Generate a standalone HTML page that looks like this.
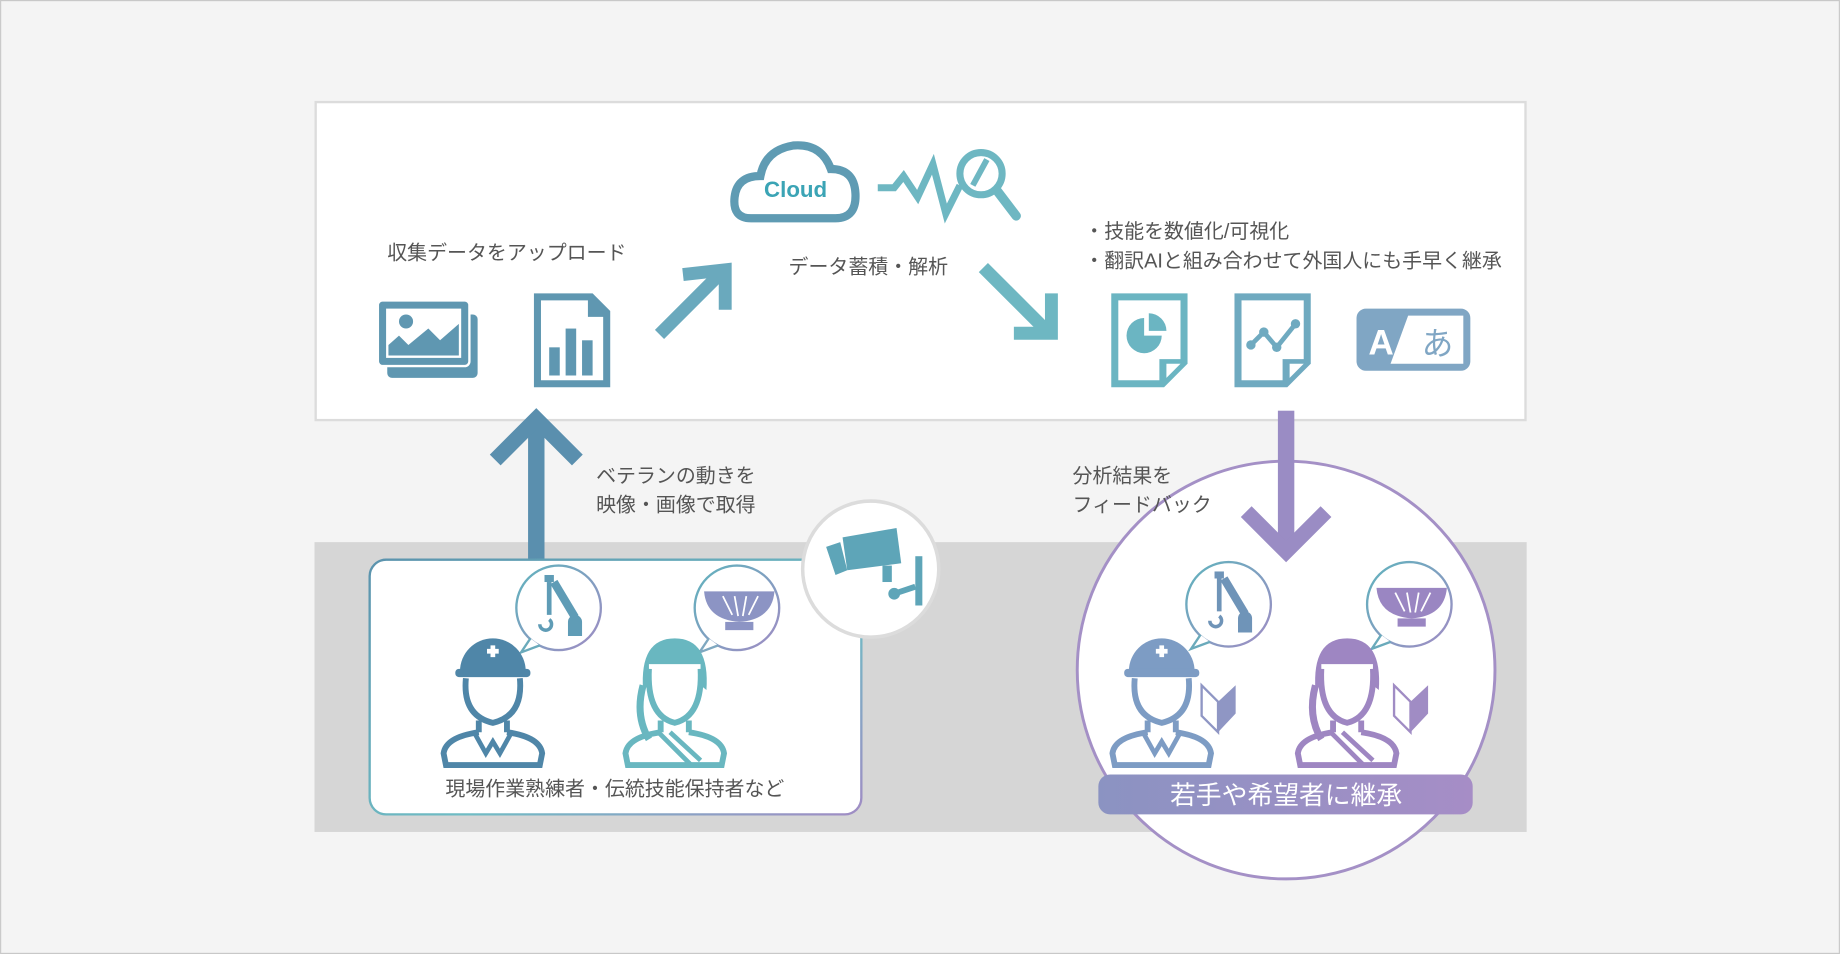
<!DOCTYPE html>
<html><head><meta charset="utf-8"><style>
html,body{margin:0;padding:0;background:#f4f4f4}
svg{display:block}
text{font-family:"Liberation Sans","Noto Sans CJK JP",sans-serif}
</style></head><body>
<svg width="1840" height="954" viewBox="0 0 1568 813" xmlns="http://www.w3.org/2000/svg">
<defs>
<linearGradient id="pg" x1="0" y1="0" x2="1" y2="0"><stop offset="0" stop-color="#8b93c2"/><stop offset="1" stop-color="#a68dc6"/></linearGradient>
<linearGradient id="bd" x1="0" y1="0" x2="1" y2="1"><stop offset="0" stop-color="#5b93ad"/><stop offset=".6" stop-color="#6fbcc4"/><stop offset="1" stop-color="#a08cc4"/></linearGradient>
<linearGradient id="bub" x1="0" y1="0" x2="1" y2="1"><stop offset="0" stop-color="#5fb3bd"/><stop offset="1" stop-color="#a08cc4"/></linearGradient>
<g id="worker">
 <path d="M-28,-8 A28,28 0 0 1 28,-8 Z" fill="currentColor"/>
 <rect x="-32" y="-10" width="64" height="7" rx="3" fill="currentColor"/>
 <path d="M-23,-2 Q-26,30 0,36 Q26,30 23,-2" fill="none" stroke="currentColor" stroke-width="5"/>
 <path d="M-12,34 L-12,44 M12,34 L12,44" stroke="currentColor" stroke-width="5"/>
 <path d="M-12,44 Q-40,48 -42,62 L-40,72 L40,72 L42,62 Q40,48 12,44" fill="none" stroke="currentColor" stroke-width="5"/>
 <path d="M-16,44 L-6,62 L0,52 L6,62 L16,44" fill="none" stroke="currentColor" stroke-width="4"/>
 <path d="M-5,-25 h10 M0,-30 v10" stroke="#fff" stroke-width="4"/>
</g>
<g id="woman">
 <path d="M-27,8 Q-30,-36 0,-36 Q30,-36 27,8 L22,4 L22,-14 Q0,-14 -22,-14 L-22,4 Z" fill="currentColor"/>
 <path d="M-22,-10 Q-24,30 0,36 Q24,30 22,-10" fill="none" stroke="currentColor" stroke-width="5"/>
 <path d="M-12,34 L-12,44 M12,34 L12,44" stroke="currentColor" stroke-width="5"/>
 <path d="M-12,44 Q-40,48 -42,62 L-40,72 L40,72 L42,62 Q40,48 12,44" fill="none" stroke="currentColor" stroke-width="5"/>
 <path d="M-14,44 L14,72 M-4,44 L22,68" stroke="currentColor" stroke-width="4"/>
 <path d="M-27,4 Q-34,30 -22,50" fill="none" stroke="currentColor" stroke-width="6"/>
</g>
<g id="crane">
 <path d="M-12,-28 h8 v6 h-8 Z" fill="currentColor"/>
 <path d="M-8,-22 L-8,6" stroke="currentColor" stroke-width="4"/>
 <path d="M-4,-22 L14,8" stroke="currentColor" stroke-width="7"/>
 <path d="M-8,10 a5,5 0 1 1 -8,4" fill="none" stroke="currentColor" stroke-width="3"/>
 <path d="M8,24 v-12 a6,6 0 0 1 12,0 v12 Z" fill="currentColor"/>
</g>
<g id="bowl">
 <path d="M-30,-12 h60 Q28,12 0,14 Q-28,12 -30,-12 Z" fill="currentColor"/>
 <rect x="-12" y="14" width="24" height="7" fill="currentColor"/>
 <path d="M-14,-8 L-6,8 M-4,-8 L-1,9 M6,-8 L3,9 M16,-8 L8,8" stroke="#fff" stroke-width="1.5"/>
</g>
</defs>
<rect x="0.5" y="0.5" width="1567" height="812" fill="#f4f4f4" stroke="#c8c8c8"/>
<rect x="268" y="462" width="1033" height="247" fill="#d6d6d6"/>
<rect x="269" y="87" width="1031" height="271" fill="#fff" stroke="#dcdcdc" stroke-width="2"/>

<g font-size="17" fill="#555">
<text x="330" y="221">収集データをアップロード</text>
<text x="672" y="233">データ蓄積・解析</text>
<text x="924" y="203">・技能を数値化/可視化</text>
<text x="924" y="228">・翻訳AIと組み合わせて外国人にも手早く継承</text>
<text x="508" y="411">ベテランの動きを</text>
<text x="508" y="436">映像・画像で取得</text>
</g>

<rect x="330" y="268" width="77" height="54" rx="4" fill="#5f97b1"/>
<rect x="322" y="256" width="78" height="56" rx="4" fill="#5f97b1" stroke="#fff" stroke-width="2"/>
<rect x="329" y="263" width="64" height="42" fill="#fff"/>
<circle cx="346" cy="274" r="6" fill="#5f97b1"/>
<path d="M331,303 L331,294 L340,286 L348,294 L365,280 L375,290 L391,276 L391,303 Z" fill="#5f97b1"/>
<path d="M455,250 h50 l15,15 v65 h-65 Z" fill="#5f97b1"/>
<path d="M461,256 h40 v14 h13 v54 h-53 Z" fill="#fff"/>
<rect x="468" y="296" width="9" height="24" fill="#5f97b1"/><rect x="482" y="280" width="9" height="40" fill="#5f97b1"/><rect x="496" y="290" width="9" height="30" fill="#5f97b1"/>
<path d="M562,285 L614,233" stroke="#6aa9bd" stroke-width="11"/>
<path d="M582,234 L618,230 L618,264" fill="none" stroke="#6aa9bd" stroke-width="11"/>
<path d="M838,228 L890,280" stroke="#6eb7c2" stroke-width="11"/>
<path d="M864,284 L896,284 L896,250" fill="none" stroke="#6eb7c2" stroke-width="11"/>
<path d="M640,186 Q624,186 626,168 Q628,150 648,150 Q652,128 676,124 Q700,122 708,144 Q728,144 729,165 Q730,186 712,186 Z" fill="#fff" stroke="#5f9bb3" stroke-width="7"/>
<text x="678" y="168" font-size="19" font-weight="bold" fill="#3ba4b5" text-anchor="middle">Cloud</text>
<path d="M748,160 L762,160 L770,150 L782,168 L795,140 L806,182 L818,158" fill="none" stroke="#6eb7c2" stroke-width="6"/>
<circle cx="836" cy="148" r="18" fill="#fff" stroke="#6eb7c2" stroke-width="6"/>
<path d="M841,136 L829,158" stroke="#6eb7c2" stroke-width="5"/>
<path d="M850,163 L866,184" stroke="#6eb7c2" stroke-width="8" stroke-linecap="round"/>
<path d="M947,250 h65 v60 l-20,20 h-45 Z" fill="#6bb5c2"/>
<path d="M953,256 h53 v50 h-18 v18 h-35 Z" fill="#fff"/>
<path d="M994,310 l12,0 l-12,12 Z" fill="#fff"/>
<path d="M975,271 A15,15 0 1 0 990,286 L975,286 Z" fill="#6bb5c2"/>
<path d="M979,267 A15,15 0 0 1 994,282 L979,282 Z" fill="#6bb5c2"/>
<path d="M1052,250 h65 v60 l-20,20 h-45 Z" fill="#6faac0"/>
<path d="M1058,256 h53 v50 h-18 v18 h-35 Z" fill="#fff"/>
<path d="M1099,310 l12,0 l-12,12 Z" fill="#fff"/>
<path d="M1066,294 L1077,283 L1088,296 L1104,276" fill="none" stroke="#6faac0" stroke-width="4"/>
<circle cx="1066" cy="294" r="4" fill="#6faac0"/><circle cx="1077" cy="283" r="4" fill="#6faac0"/><circle cx="1088" cy="296" r="4" fill="#6faac0"/><circle cx="1104" cy="276" r="4" fill="#6faac0"/>
<rect x="1156" y="263" width="97" height="53" rx="8" fill="#80a6c4"/>
<path d="M1200,269 h47 v41 h-62 Z" fill="#fff"/>
<text x="1177" y="302" font-size="30" font-weight="bold" fill="#fff" text-anchor="middle">A</text>
<text x="1225" y="302" font-size="27" fill="#80a6c4" text-anchor="middle">あ</text>

<rect x="450" y="358" width="14" height="120" fill="#5a8fae"/>
<path d="M422,392 L457,357 L492,392" fill="none" stroke="#5a8fae" stroke-width="13"/>

<rect x="315" y="477" width="419" height="217" rx="14" fill="#fff" stroke="url(#bd)" stroke-width="2"/>
<circle cx="742" cy="485" r="58" fill="#fff" stroke="#dcdcdc" stroke-width="3"/>
<g fill="#5ea5b8">
<path d="M718,458 L764,450 L768,480 L722,486 Z"/>
<path d="M704,466 L716,462 L722,486 L712,490 Z"/>
<rect x="752" y="482" width="8" height="14"/>
<circle cx="762" cy="506" r="5"/>
<path d="M762,506 L780,500" stroke="#5ea5b8" stroke-width="5"/>
<rect x="780" y="474" width="6" height="42"/>
</g>
<circle cx="476" cy="518" r="36" fill="#fff" stroke="url(#bub)" stroke-width="2"/>
<path d="M452,544 L444,556 L460,550" fill="#fff" stroke="#6aaabb" stroke-width="2"/>
<use href="#crane" x="476" y="518" style="color:#5f9cb6"/>
<circle cx="628" cy="518" r="36" fill="#fff" stroke="url(#bub)" stroke-width="2"/>
<path d="M604,544 L596,556 L612,550" fill="#fff" stroke="#7fa8c0" stroke-width="2"/>
<use href="#bowl" x="630" y="516" style="color:#8c94c4"/>
<use href="#worker" x="420" y="580" style="color:#4f86a8"/>
<use href="#woman" x="575" y="580" style="color:#69b7c0"/>
<text x="524" y="678" font-size="17" fill="#555" text-anchor="middle">現場作業熟練者・伝統技能保持者など</text>

<circle cx="1096" cy="571" r="178" fill="#fff" stroke="#a490c6" stroke-width="2.5"/>
<g font-size="17" fill="#555">
<text x="914" y="411">分析結果を</text>
<text x="914" y="436">フィードバック</text>
</g>
<rect x="1089" y="350" width="14" height="122" fill="#9a8cc4"/>
<path d="M1062,436 L1096,470 L1130,436" fill="none" stroke="#9a8cc4" stroke-width="13"/>
<circle cx="1047" cy="515" r="36" fill="#fff" stroke="url(#bub)" stroke-width="2"/>
<path d="M1023,541 L1015,553 L1031,547" fill="#fff" stroke="#6aaabb" stroke-width="2"/>
<use href="#crane" x="1047" y="515" style="color:#6f94b8"/>
<circle cx="1201" cy="515" r="36" fill="#fff" stroke="url(#bub)" stroke-width="2"/>
<path d="M1177,541 L1169,553 L1185,547" fill="#fff" stroke="#6aaabb" stroke-width="2"/>
<use href="#bowl" x="1203" y="513" style="color:#9a86c2"/>
<use href="#worker" x="990" y="580" style="color:#7d9cc4"/>
<use href="#woman" x="1148" y="580" style="color:#9e86c2"/>
<path d="M1024,584 L1038,598 L1038,624 L1024,610 Z" fill="#fff" stroke="#8f96c4" stroke-width="2"/>
<path d="M1038,598 L1053,584 L1053,608 L1038,624 Z" fill="#8f96c4"/>
<path d="M1188,584 L1202,598 L1202,624 L1188,610 Z" fill="#fff" stroke="#a08cc4" stroke-width="2"/>
<path d="M1202,598 L1217,584 L1217,608 L1202,624 Z" fill="#a08cc4"/>
<rect x="936" y="660" width="319" height="34" rx="10" fill="url(#pg)"/>
<text x="1096" y="685" font-size="22" fill="#fff" text-anchor="middle">若手や希望者に継承</text>
</svg>
</body></html>
